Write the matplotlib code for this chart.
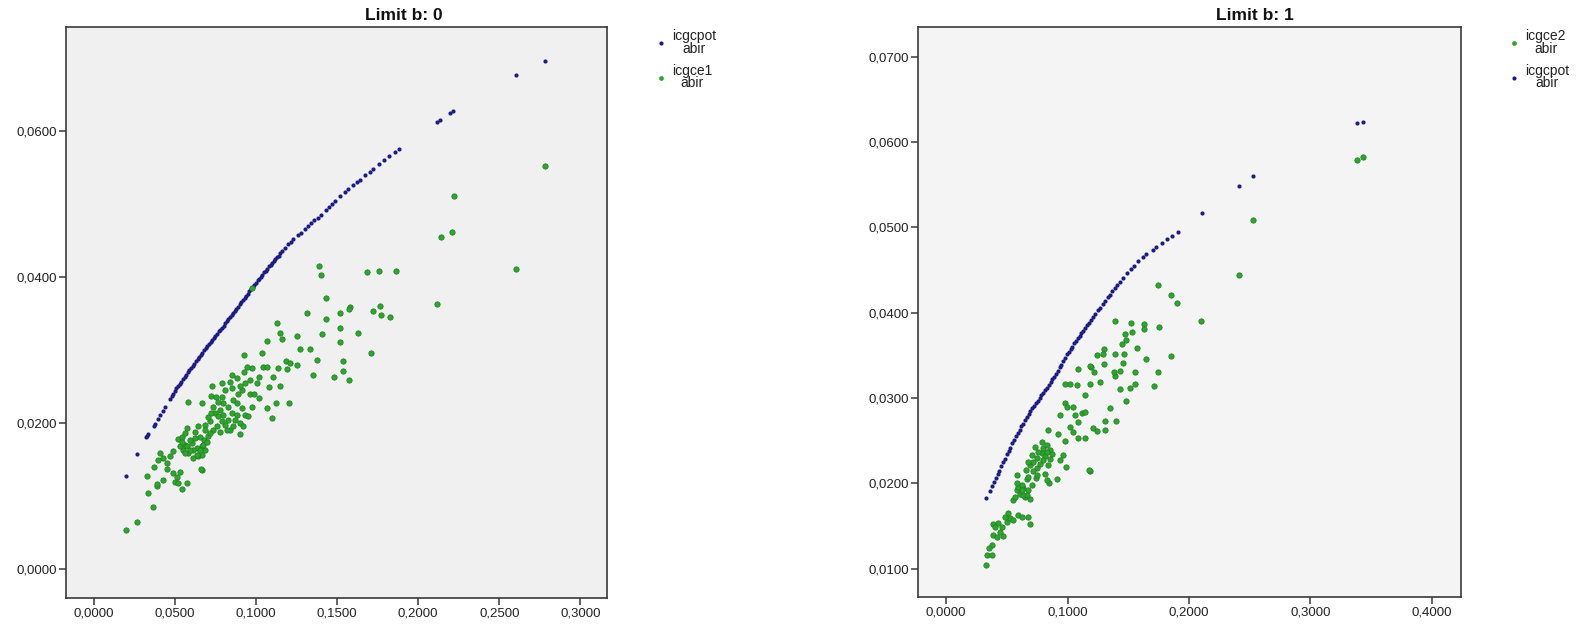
import matplotlib
matplotlib.use("Agg")
import matplotlib.pyplot as plt
from matplotlib.ticker import FuncFormatter
from matplotlib.lines import Line2D

plt.rcParams['font.family'] = ['Liberation Sans', 'DejaVu Sans']

# ---------------- Data: panel "Limit b: 0" ----------------
left_pot_x = [0.0200, 0.0267, 0.0325, 0.0330, 0.0335, 0.0370, 0.0375, 0.0395, 0.0410, 0.0425,
              0.0440, 0.0470, 0.0480, 0.0490, 0.0500, 0.0510, 0.0520, 0.0530, 0.0540, 0.0550,
              0.0560, 0.0570, 0.0580, 0.0590, 0.0600, 0.0610, 0.0620, 0.0630, 0.0640, 0.0650,
              0.0660, 0.0670, 0.0680, 0.0690, 0.0700, 0.0710, 0.0720, 0.0730, 0.0740, 0.0750,
              0.0760, 0.0770, 0.0780, 0.0790, 0.0800, 0.0810, 0.0820, 0.0830, 0.0840, 0.0850,
              0.0860, 0.0870, 0.0880, 0.0890, 0.0900, 0.0910, 0.0920, 0.0930, 0.0940, 0.0950,
              0.0960, 0.0970, 0.0980, 0.0990, 0.1000, 0.1010, 0.1020, 0.1030, 0.1040, 0.1050,
              0.1060, 0.1070, 0.1080, 0.1090, 0.1100, 0.1110, 0.1120, 0.1130, 0.1140, 0.1150,
              0.1160, 0.1180, 0.1200, 0.1215, 0.1230, 0.1260, 0.1275, 0.1300, 0.1320, 0.1340,
              0.1360, 0.1380, 0.1400, 0.1430, 0.1450, 0.1470, 0.1490, 0.1520, 0.1550, 0.1570,
              0.1600, 0.1620, 0.1640, 0.1670, 0.1700, 0.1720, 0.1760, 0.1790, 0.1820, 0.1860,
              0.1880, 0.2114, 0.2133, 0.2197, 0.2216, 0.2606, 0.2782]
left_pot_y = [0.0127, 0.0157, 0.0180, 0.0182, 0.0184, 0.0196, 0.0198, 0.0205, 0.0211, 0.0216,
              0.0222, 0.0233, 0.0237, 0.0240, 0.0244, 0.0247, 0.0250, 0.0253, 0.0256, 0.0260,
              0.0263, 0.0266, 0.0269, 0.0272, 0.0275, 0.0278, 0.0281, 0.0284, 0.0287, 0.0290,
              0.0293, 0.0296, 0.0299, 0.0302, 0.0305, 0.0308, 0.0311, 0.0313, 0.0316, 0.0319,
              0.0322, 0.0325, 0.0327, 0.0330, 0.0333, 0.0336, 0.0339, 0.0342, 0.0345, 0.0348,
              0.0351, 0.0353, 0.0356, 0.0359, 0.0362, 0.0365, 0.0368, 0.0371, 0.0374, 0.0377,
              0.0380, 0.0383, 0.0386, 0.0389, 0.0392, 0.0395, 0.0397, 0.0400, 0.0403, 0.0406,
              0.0408, 0.0411, 0.0414, 0.0416, 0.0419, 0.0422, 0.0424, 0.0427, 0.0429, 0.0432,
              0.0435, 0.0440, 0.0445, 0.0448, 0.0451, 0.0457, 0.0460, 0.0465, 0.0469, 0.0473,
              0.0477, 0.0481, 0.0485, 0.0491, 0.0496, 0.0500, 0.0504, 0.0510, 0.0516, 0.0520,
              0.0526, 0.0530, 0.0533, 0.0539, 0.0544, 0.0548, 0.0555, 0.0560, 0.0565, 0.0571,
              0.0575, 0.0612, 0.0615, 0.0624, 0.0627, 0.0676, 0.0695]

left_ce1_x = [0.0197, 0.0269, 0.0363, 0.0336, 0.0326, 0.0392, 0.0392, 0.0374, 0.0409, 0.0430,
              0.0450, 0.0430, 0.0491, 0.0511, 0.0532, 0.0501, 0.0522, 0.0542, 0.0573, 0.0665,
              0.0579, 0.0522, 0.0542, 0.0573, 0.0532, 0.0552, 0.0563, 0.0583, 0.0614, 0.0645,
              0.0604, 0.0634, 0.0665, 0.0686, 0.0655, 0.0682, 0.0706, 0.0624, 0.0645, 0.0686,
              0.0717, 0.0706, 0.0737, 0.0757, 0.0778, 0.0747, 0.0778, 0.0737, 0.0665, 0.0723,
              0.0752, 0.0789, 0.0731, 0.0799, 0.0830, 0.0850, 0.0809, 0.0840, 0.0871, 0.0902,
              0.0922, 0.0902, 0.0912, 0.0933, 0.0861, 0.0891, 0.0912, 0.0840, 0.0850, 0.0902,
              0.0933, 0.0963, 0.0943, 0.0928, 0.0928, 0.0963, 0.0665, 0.0661, 0.0563, 0.0594,
              0.0614,
              0.1389, 0.1401, 0.1685, 0.1759, 0.1864, 0.1432, 0.1580, 0.1574, 0.1315, 0.1722,
              0.1765, 0.1771, 0.1827, 0.1432, 0.1130, 0.1518, 0.1518, 0.1148, 0.1161, 0.1253,
              0.1408, 0.1629, 0.1068, 0.1518, 0.1272, 0.1333, 0.1709, 0.1037, 0.1185, 0.1210,
              0.1253, 0.1377, 0.1537, 0.1043, 0.1068, 0.1136, 0.1191, 0.1537, 0.1352, 0.1481,
              0.1574, 0.1006, 0.1105, 0.1080, 0.0974,
              0.2783, 0.2221, 0.2141, 0.2207, 0.2606, 0.2114, 0.1101, 0.1206, 0.1123, 0.1068,
              0.1018, 0.1150, 0.0990, 0.1020,
              0.0542, 0.0573, 0.0594, 0.0563, 0.0624, 0.0655, 0.0675, 0.0696, 0.0635, 0.0686,
              0.0717, 0.0723, 0.0768, 0.0789, 0.0819, 0.0861, 0.0881, 0.0830, 0.0799, 0.0768,
              0.0881, 0.0953, 0.0974, 0.0850, 0.0881, 0.0974, 0.0789, 0.0809, 0.0491, 0.0450,
              0.0398, 0.0470]
left_ce1_y = [0.0053, 0.0064, 0.0084, 0.0104, 0.0127, 0.0113, 0.0116, 0.0139, 0.0158, 0.0152,
              0.0136, 0.0122, 0.0131, 0.0126, 0.0133, 0.0119, 0.0117, 0.0109, 0.0118, 0.0135,
              0.0228, 0.0178, 0.0181, 0.0193, 0.0168, 0.0163, 0.0170, 0.0158, 0.0152, 0.0154,
              0.0172, 0.0165, 0.0168, 0.0163, 0.0180, 0.0176, 0.0182, 0.0187, 0.0195, 0.0197,
              0.0202, 0.0208, 0.0190, 0.0195, 0.0188, 0.0213, 0.0218, 0.0222, 0.0227, 0.0236,
              0.0235, 0.0235, 0.0250, 0.0210, 0.0204, 0.0213, 0.0197, 0.0190, 0.0204, 0.0199,
              0.0195, 0.0184, 0.0220, 0.0210, 0.0231, 0.0240, 0.0245, 0.0256, 0.0247, 0.0250,
              0.0254, 0.0259, 0.0277, 0.0270, 0.0293, 0.0240, 0.0156, 0.0136, 0.0186, 0.0177,
              0.0163,
              0.0414, 0.0403, 0.0407, 0.0408, 0.0408, 0.0371, 0.0359, 0.0356, 0.0351, 0.0353,
              0.0360, 0.0347, 0.0345, 0.0342, 0.0337, 0.0351, 0.0330, 0.0323, 0.0315, 0.0319,
              0.0321, 0.0323, 0.0312, 0.0310, 0.0301, 0.0301, 0.0296, 0.0295, 0.0285, 0.0282,
              0.0279, 0.0286, 0.0284, 0.0277, 0.0277, 0.0275, 0.0273, 0.0271, 0.0266, 0.0263,
              0.0259, 0.0255, 0.0263, 0.0249, 0.0385,
              0.0551, 0.0511, 0.0454, 0.0461, 0.0411, 0.0363, 0.0206, 0.0227, 0.0227, 0.0220,
              0.0234, 0.0250, 0.0240, 0.0262,
              0.0174, 0.0168, 0.0163, 0.0158, 0.0179, 0.0163, 0.0170, 0.0174, 0.0156, 0.0190,
              0.0186, 0.0213, 0.0209, 0.0202, 0.0190, 0.0195, 0.0211, 0.0222, 0.0227, 0.0229,
              0.0227, 0.0209, 0.0222, 0.0266, 0.0261, 0.0275, 0.0254, 0.0245, 0.0161, 0.0145,
              0.0149, 0.0154]

# ---------------- Data: panel "Limit b: 1" ----------------
right_pot_x = [0.0333, 0.0360, 0.0380, 0.0395, 0.0410, 0.0425, 0.0440, 0.0455, 0.0470, 0.0485,
               0.0500, 0.0515, 0.0530, 0.0545, 0.0560, 0.0575, 0.0590, 0.0605, 0.0620, 0.0635,
               0.0650, 0.0665, 0.0680, 0.0695, 0.0710, 0.0725, 0.0740, 0.0755, 0.0770, 0.0785,
               0.0800, 0.0815, 0.0830, 0.0845, 0.0860, 0.0875, 0.0890, 0.0905, 0.0920, 0.0935,
               0.0950, 0.0965, 0.0980, 0.0995, 0.1010, 0.1025, 0.1040, 0.1055, 0.1070, 0.1085,
               0.1100, 0.1115, 0.1130, 0.1145, 0.1160, 0.1175, 0.1190, 0.1210, 0.1230, 0.1250,
               0.1270, 0.1290, 0.1310, 0.1330, 0.1350, 0.1370, 0.1390, 0.1410, 0.1430, 0.1460,
               0.1490, 0.1520, 0.1550, 0.1580, 0.1620, 0.1650, 0.1700, 0.1730, 0.1780, 0.1820,
               0.1860, 0.1907, 0.2105, 0.2410, 0.2525, 0.3382, 0.3429]
right_pot_y = [0.0183, 0.0191, 0.0197, 0.0202, 0.0206, 0.0211, 0.0215, 0.0220, 0.0225, 0.0229,
               0.0234, 0.0238, 0.0242, 0.0247, 0.0251, 0.0255, 0.0259, 0.0263, 0.0267, 0.0270,
               0.0274, 0.0278, 0.0281, 0.0285, 0.0288, 0.0291, 0.0294, 0.0297, 0.0300, 0.0303,
               0.0306, 0.0309, 0.0312, 0.0315, 0.0319, 0.0322, 0.0325, 0.0328, 0.0332, 0.0336,
               0.0339, 0.0343, 0.0347, 0.0351, 0.0354, 0.0357, 0.0360, 0.0364, 0.0367, 0.0370,
               0.0373, 0.0376, 0.0379, 0.0382, 0.0385, 0.0388, 0.0391, 0.0395, 0.0399, 0.0403,
               0.0406, 0.0410, 0.0414, 0.0418, 0.0421, 0.0425, 0.0429, 0.0433, 0.0436, 0.0441,
               0.0446, 0.0451, 0.0455, 0.0460, 0.0465, 0.0469, 0.0474, 0.0477, 0.0482, 0.0486,
               0.0490, 0.0494, 0.0517, 0.0549, 0.0560, 0.0622, 0.0624]

right_ce2_x = [0.3386, 0.3434, 0.2525, 0.2410, 0.1744, 0.1851, 0.1899, 0.2097, 0.1391, 0.1522,
               0.1629, 0.1629, 0.1756, 0.1530, 0.1483, 0.1447, 0.1574, 0.1304, 0.1292, 0.1387,
               0.1463, 0.1455, 0.1649, 0.1851, 0.1197, 0.1217, 0.1086, 0.1435, 0.1558, 0.1744,
               0.1391, 0.1265, 0.1558, 0.1514, 0.1709, 0.1479, 0.1348, 0.1312, 0.1399, 0.1312,
               0.1185, 0.1185,
               0.0329, 0.0340, 0.0376, 0.0376, 0.0384, 0.0417, 0.0390, 0.0431, 0.0458, 0.0472,
               0.0500, 0.0527, 0.0513, 0.0549, 0.0596, 0.0623, 0.0678, 0.0692, 0.0549, 0.0582,
               0.0610, 0.0596, 0.0637, 0.0651, 0.0692, 0.0582, 0.0664, 0.0706, 0.0659, 0.0692,
               0.0719, 0.0752, 0.0752, 0.0788, 0.0815, 0.0802, 0.0788, 0.0829, 0.0856, 0.0870,
               0.0741, 0.0815, 0.0851, 0.0912, 0.0939, 0.0966, 0.0988, 0.0980, 0.0925, 0.0843,
               0.1090, 0.1145, 0.1173, 0.0939, 0.0980, 0.0999, 0.1049, 0.1063, 0.1090, 0.1021,
               0.1043, 0.1118, 0.1145, 0.1214, 0.1241, 0.1145, 0.0980, 0.1021, 0.1076, 0.1186,
               0.0774, 0.0719, 0.0829, 0.0678, 0.0623, 0.0637, 0.0568, 0.0678,
               0.0733, 0.0761, 0.0802, 0.0843, 0.0856, 0.0706, 0.0678, 0.0747, 0.0829, 0.0582,
               0.0623, 0.0664, 0.0445, 0.0404, 0.0486, 0.0357,
               0.1245, 0.1471, 0.1380, 0.1300, 0.1430]
right_ce2_y = [0.0579, 0.0582, 0.0509, 0.0444, 0.0433, 0.0421, 0.0411, 0.0390, 0.0390, 0.0388,
               0.0387, 0.0381, 0.0383, 0.0377, 0.0368, 0.0363, 0.0359, 0.0358, 0.0352, 0.0351,
               0.0352, 0.0341, 0.0346, 0.0349, 0.0336, 0.0331, 0.0334, 0.0332, 0.0330, 0.0330,
               0.0326, 0.0319, 0.0317, 0.0312, 0.0314, 0.0296, 0.0288, 0.0273, 0.0273, 0.0262,
               0.0338, 0.0214,
               0.0104, 0.0116, 0.0116, 0.0128, 0.0139, 0.0137, 0.0152, 0.0154, 0.0149, 0.0138,
               0.0155, 0.0159, 0.0165, 0.0157, 0.0163, 0.0161, 0.0160, 0.0152, 0.0181, 0.0192,
               0.0188, 0.0196, 0.0194, 0.0184, 0.0182, 0.0210, 0.0205, 0.0198, 0.0216, 0.0221,
               0.0225, 0.0218, 0.0230, 0.0235, 0.0232, 0.0241, 0.0249, 0.0245, 0.0239, 0.0234,
               0.0206, 0.0211, 0.0200, 0.0205, 0.0227, 0.0233, 0.0219, 0.0250, 0.0258, 0.0263,
               0.0253, 0.0253, 0.0216, 0.0280, 0.0294, 0.0290, 0.0290, 0.0280, 0.0272, 0.0266,
               0.0260, 0.0282, 0.0284, 0.0265, 0.0261, 0.0304, 0.0317, 0.0316, 0.0315, 0.0317,
               0.0223, 0.0214, 0.0237, 0.0208, 0.0198, 0.0186, 0.0184, 0.0192,
               0.0243, 0.0237, 0.0227, 0.0222, 0.0229, 0.0233, 0.0225, 0.0210, 0.0204, 0.0200,
               0.0192, 0.0186, 0.0143, 0.0149, 0.0161, 0.0124,
               0.0350, 0.0375, 0.0330, 0.0340, 0.0310]

left_xticks = [0.0, 0.05, 0.10, 0.15, 0.20, 0.25, 0.30]
left_yticks = [0.0, 0.02, 0.04, 0.06]
right_xticks = [0.0, 0.1, 0.2, 0.3, 0.4]
right_yticks = [0.01, 0.02, 0.03, 0.04, 0.05, 0.06, 0.07]

titles = ["Limit b: 0", "Limit b: 1"]
lab_pot = "icgcpot\nabir"
lab_ce1 = "icgce1\nabir"
lab_ce2 = "icgce2\nabir"

BLUE = "#1c1c86"
GREEN = "#2ea52e"
GREEN_EDGE = "#1d7d1d"

W, H = 1585, 625
fig = plt.figure(figsize=(W / 100, H / 100), dpi=100)
fig.patch.set_facecolor("white")

def fbox(l, t, r, b):
    return [l / W, 1 - b / H, (r - l) / W, (b - t) / H]

ax1 = fig.add_axes(fbox(66, 27, 607, 598))
ax2 = fig.add_axes(fbox(918, 27, 1461, 597))

fmt = FuncFormatter(lambda v, p: f"{v:.4f}".replace(".", ","))

def style(ax, face):
    ax.set_facecolor(face)
    for s in ax.spines.values():
        s.set_color("#3a3a3a")
        s.set_linewidth(1.2)
    ax.tick_params(direction="out", length=5, width=1.1, color="#3a3a3a",
                   labelsize=9.5, labelcolor="#222222", pad=1.5)
    ax.xaxis.set_major_formatter(fmt)
    ax.yaxis.set_major_formatter(fmt)

# Left panel
ax1.scatter(left_pot_x, left_pot_y, s=9, color=BLUE, linewidths=0, zorder=3)
ax1.scatter(left_ce1_x, left_ce1_y, s=15, color=GREEN, edgecolors=GREEN_EDGE,
            linewidths=0.5, zorder=4)
ax1.set_xlim(-0.0171, 0.3164)
ax1.set_ylim(-0.0040, 0.0742)
ax1.set_xticks(left_xticks)
ax1.set_yticks(left_yticks)
style(ax1, "#f0f0f0")

# Right panel
ax2.scatter(right_pot_x, right_pot_y, s=9, color=BLUE, linewidths=0, zorder=3)
ax2.scatter(right_ce2_x, right_ce2_y, s=15, color=GREEN, edgecolors=GREEN_EDGE,
            linewidths=0.5, zorder=4)
ax2.set_xlim(-0.0231, 0.4240)
ax2.set_ylim(0.00668, 0.07348)
ax2.set_xticks(right_xticks)
ax2.set_yticks(right_yticks)
style(ax2, "#f4f4f4")

# Titles
fig.text(403.5 / W, 1 - 16 / H, titles[0], ha="center", va="center",
         fontsize=12.5, fontweight="bold", color="#111111")
fig.text(1255 / W, 1 - 16 / H, titles[1], ha="center", va="center",
         fontsize=12.5, fontweight="bold", color="#111111")

def mk(color, size):
    return Line2D([], [], linestyle="none", marker="o", markersize=size,
                  markerfacecolor=color, markeredgewidth=0)

def add_legend(ax, handles, labels, left_px):
    leg = ax.legend(handles, labels, loc="upper left",
                    bbox_to_anchor=(left_px / W, 1 - 29 / H),
                    bbox_transform=fig.transFigure, frameon=False,
                    fontsize=10, handlelength=0.6, handletextpad=0.5,
                    labelspacing=0.55, borderpad=0, borderaxespad=0)
    for t in leg.get_texts():
        t.set_multialignment("center")
        t.set_linespacing(0.9)
        t.set_color("#222222")
    return leg

add_legend(ax1, [mk(BLUE, 3.0), mk(GREEN, 3.4)], [lab_pot, lab_ce1], 657)
add_legend(ax2, [mk(GREEN, 3.4), mk(BLUE, 3.0)], [lab_ce2, lab_pot], 1510)

fig.savefig("out.png", dpi=100)
